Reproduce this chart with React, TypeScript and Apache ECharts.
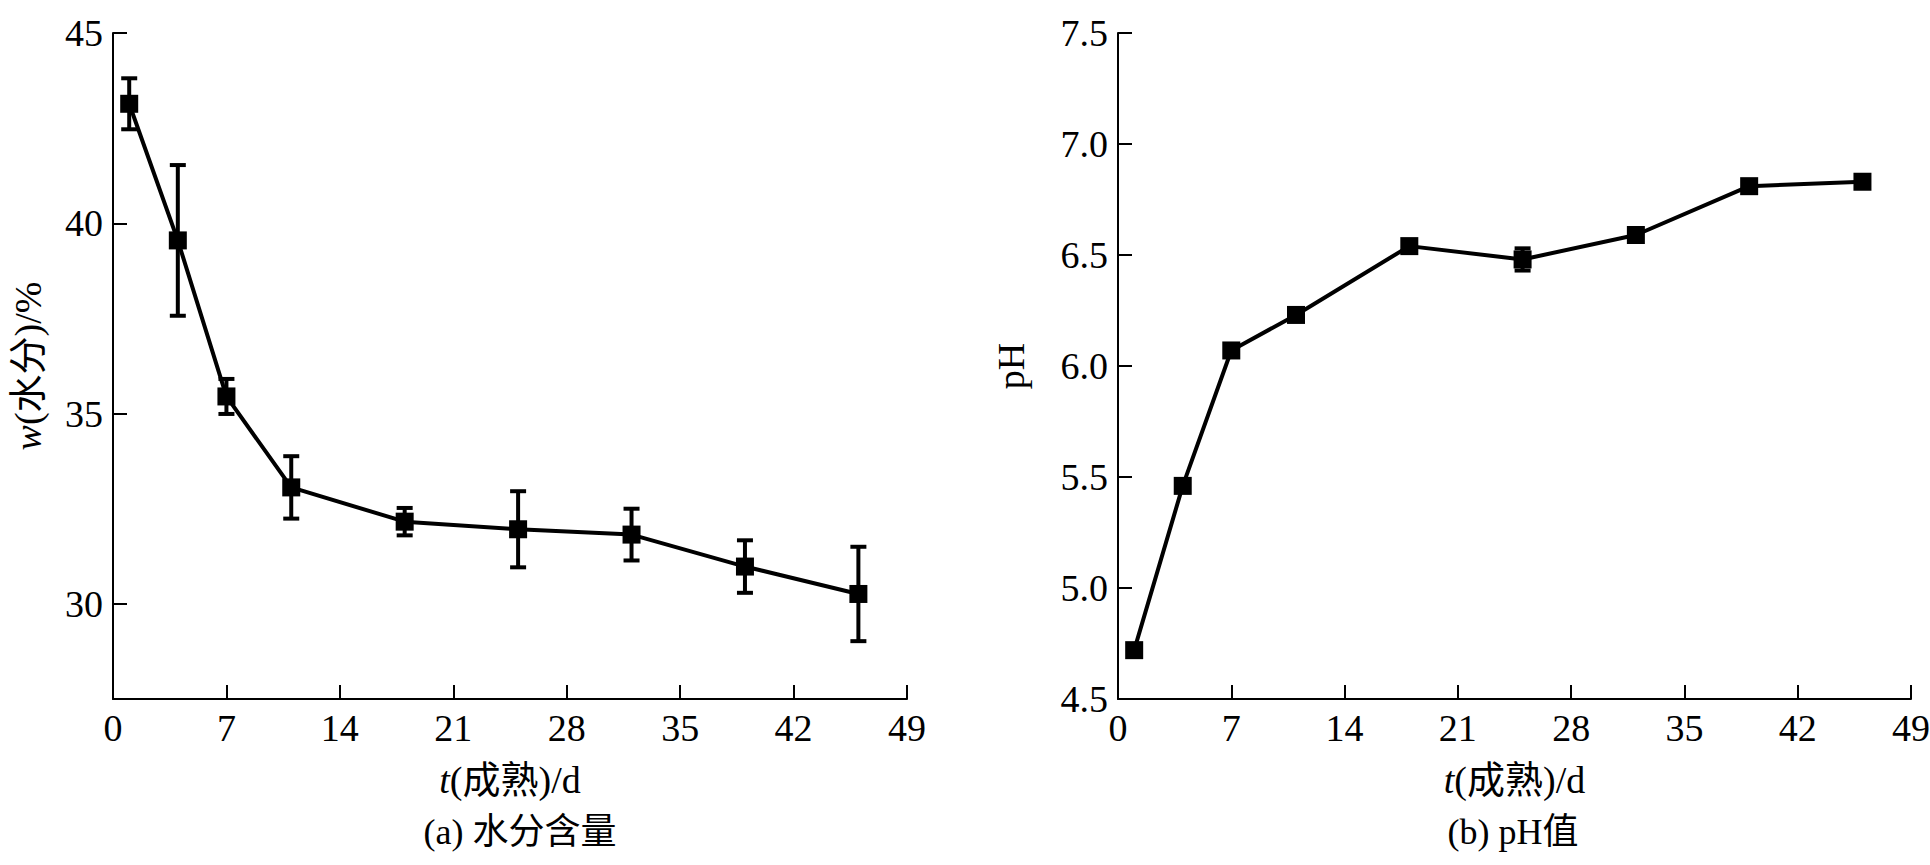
import React, { useEffect, useRef } from "react";
import * as echarts from "echarts";

// maturation time (d)
const days = [1, 4, 7, 11, 18, 25, 32, 39, 46];
// (a) moisture content w(水分)/%
const moisture = [43.14, 39.55, 35.45, 33.06, 32.16, 31.96, 31.82, 30.98, 30.26];
const moistureErr = [0.67, 1.98, 0.46, 0.82, 0.36, 1.0, 0.68, 0.69, 1.24];
// (b) pH
const ph = [4.72, 5.46, 6.07, 6.23, 6.54, 6.48, 6.59, 6.81, 6.83];
const phErr = [0.02, 0.02, 0.02, 0.02, 0.02, 0.05, 0.02, 0.02, 0.02];

const moistureTicks = [30, 35, 40, 45];

const FONT = '"Liberation Serif", "Times New Roman", "Noto Sans CJK SC", serif';
const TICK_FS = 38;

function errorSeries(name: string, values: number[], errs: number[], idx: number) {
  return {
    name,
    type: "custom",
    xAxisIndex: idx,
    yAxisIndex: idx,
    encode: { x: 0, y: [1, 2] },
    data: days.map((d, i) => [d, values[i] - errs[i], values[i] + errs[i]]),
    z: 3,
    renderItem: (_p: any, api: any) => {
      const x = api.value(0);
      const lo = api.coord([x, api.value(1)]);
      const hi = api.coord([x, api.value(2)]);
      const cap = 8;
      const style = { stroke: "#000", lineWidth: 4 };
      return {
        type: "group",
        children: [
          { type: "line", shape: { x1: lo[0], y1: lo[1], x2: hi[0], y2: hi[1] }, style },
          { type: "line", shape: { x1: lo[0] - cap, y1: lo[1], x2: lo[0] + cap, y2: lo[1] }, style },
          { type: "line", shape: { x1: hi[0] - cap, y1: hi[1], x2: hi[0] + cap, y2: hi[1] }, style },
        ],
      };
    },
  };
}

function lineSeries(name: string, values: number[], idx: number) {
  return {
    name,
    type: "line",
    xAxisIndex: idx,
    yAxisIndex: idx,
    data: days.map((d, i) => [d, values[i]]),
    symbol: "rect",
    symbolSize: 18,
    lineStyle: { color: "#000", width: 4 },
    itemStyle: { color: "#000" },
    z: 4,
  };
}

const axisLineStyle = { show: true, lineStyle: { color: "#000", width: 2 } };
const tickStyle = { show: true, inside: true, length: 14, lineStyle: { color: "#000", width: 2 } };
const labelStyle = { color: "#000", fontSize: TICK_FS, fontFamily: FONT, margin: 10 };
const nameStyle = {
  color: "#000",
  fontSize: TICK_FS,
  fontFamily: FONT,
  rich: {
    i: { fontStyle: "italic", fontSize: TICK_FS, fontFamily: FONT, color: "#000" },
  },
};

function xAxis(idx: number) {
  return {
    type: "value",
    gridIndex: idx,
    min: 0,
    max: 49,
    interval: 7,
    name: "{i|t}(成熟)/d",
    nameLocation: "middle",
    nameGap: 62,
    nameTextStyle: nameStyle,
    axisLine: axisLineStyle,
    axisTick: tickStyle,
    axisLabel: { ...labelStyle, showMinLabel: true, showMaxLabel: true },
    splitLine: { show: false },
  };
}

export default function App() {
  const ref = useRef<HTMLDivElement>(null);
  useEffect(() => {
    if (!ref.current) return;
    const chart = echarts.init(ref.current, undefined, { renderer: "svg" });
    const option: any = {
      animation: false,
      backgroundColor: "#fff",
      grid: [
        { left: 113, top: 33, width: 794, height: 666, outerBoundsMode: "none" },
        { left: 1118, top: 33, width: 793, height: 666, outerBoundsMode: "none" },
      ],
      xAxis: [xAxis(0), xAxis(1)],
      yAxis: [
        {
          type: "value",
          gridIndex: 0,
          min: 27.5,
          max: 45,
          name: "{i|w}(水分)/%",
          nameLocation: "middle",
          nameGap: 66,
          nameTextStyle: nameStyle,
          axisLine: axisLineStyle,
          axisTick: { ...tickStyle, customValues: moistureTicks },
          axisLabel: { ...labelStyle, customValues: moistureTicks },
          splitLine: { show: false },
        },
        {
          type: "value",
          gridIndex: 1,
          min: 4.5,
          max: 7.5,
          interval: 0.5,
          name: "pH",
          nameLocation: "middle",
          nameGap: 88,
          nameTextStyle: nameStyle,
          axisLine: axisLineStyle,
          axisTick: tickStyle,
          axisLabel: {
            ...labelStyle,
            showMinLabel: true,
            showMaxLabel: true,
            formatter: (v: number) => v.toFixed(1),
          },
          splitLine: { show: false },
        },
      ],
      graphic: [
        {
          type: "text",
          x: 520,
          y: 832,
          style: {
            text: "(a) 水分含量",
            font: `36px ${FONT}`,
            fill: "#000",
            align: "center",
            verticalAlign: "middle",
          },
        },
        {
          type: "text",
          x: 1513,
          y: 832,
          style: {
            text: "(b) pH值",
            font: `36px ${FONT}`,
            fill: "#000",
            align: "center",
            verticalAlign: "middle",
          },
        },
      ],
      series: [
        errorSeries("水分误差", moisture, moistureErr, 0),
        lineSeries("水分含量", moisture, 0),
        errorSeries("pH误差", ph, phErr, 1),
        lineSeries("pH值", ph, 1),
      ],
    };
    chart.setOption(option);
    return () => chart.dispose();
  }, []);
  return (
    <div
      ref={ref}
      style={{ position: "absolute", left: 0, top: 0, width: 1930, height: 865, background: "#fff" }}
    />
  );
}
